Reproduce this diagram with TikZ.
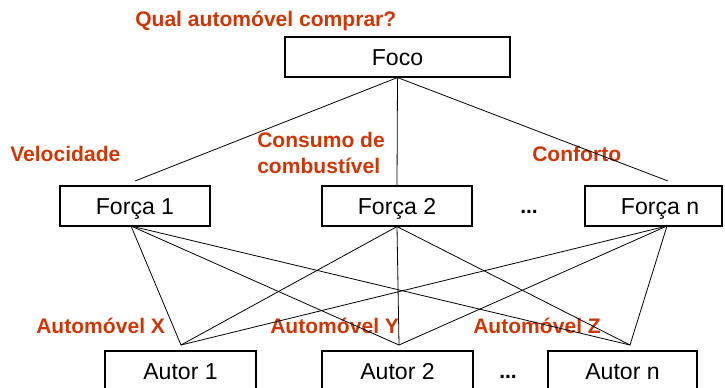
\documentclass[tikz,border=0pt]{standalone}
\usepackage{fontspec}
\setmainfont{Liberation Sans}
\definecolor{labelred}{RGB}{205,55,5}
\tikzset{
  box/.style={draw, line width=0.8pt, inner sep=0pt, minimum width=112.5pt,
    minimum height=30pt, font=\fontsize{17.3}{20}\selectfont,
    text height=13pt, text depth=1pt},
  link/.style={line width=0.6pt},
  tag/.style={text=labelred, font=\fontsize{15.8}{19.5}\selectfont\bfseries,
    inner sep=0pt, anchor=base west},
  dots/.style={font=\fontsize{15.8}{19}\selectfont\bfseries, inner sep=0pt,
    anchor=base west}
}
\begin{document}
\begin{tikzpicture}[x=0.75pt, y=-0.75pt]
  \clip (0,0) rectangle (725,387);

  % goal
  \node[box, minimum width=168.75pt] (foco) at (397.5,57) {Foco};

  % forces
  \node[box] (f1) at (135,206) {Força 1};
  \node[box] (f2) at (397,206) {Força 2};
  \node[box, minimum width=102.75pt] (fn) at (653.5,206) {\hspace*{9.75pt}Força n};
  \node[dots] (fdots) at (520,213) {...};

  % actors
  \node[box, minimum width=113.25pt] (a1) at (180.5,371) {Autor 1};
  \node[box, minimum width=113.25pt] (a2) at (397.5,371) {Autor 2};
  \node[box, minimum width=111.75pt] (an) at (622.5,371) {Autor n};
  \node[dots] (adots) at (499,378) {...};

  % labels (the two-line one is anchored on its last baseline)
  \node[tag] (question) at (135,26) {Qual automóvel comprar?};
  \node[tag] (speed) at (10,161) {Velocidade};
  \node[tag, align=left] (fuel) at (257,173) {Consumo de\\combustível};
  \node[tag] (comfort) at (532,161) {Conforto};
  \node[tag] (carx) at (36,333) {Automóvel X};
  \node[tag] (cary) at (270,333) {Automóvel Y};
  \node[tag] (carz) at (473,333) {Automóvel Z};

  % attachment points
  \coordinate (f1in) at (135,181);
  \coordinate (fnin) at (668,181);
  \coordinate (f1out) at (131,226);
  \coordinate (fnout) at (667,226);
  \coordinate (a1in) at (181,345);
  \coordinate (a2in) at (399,345);
  \coordinate (anin) at (630,345);

  % goal to forces
  \draw[link] (foco.south) -- (f1in);
  \draw[link] (foco.south) -- (f2.north);
  \draw[link] (foco.south) -- (fnin);

  % forces to actors
  \foreach \f in {f1out, f2.south, fnout}
    \foreach \a in {a1in, a2in, anin}
      \draw[link] (\f) -- (\a);
\end{tikzpicture}
\end{document}
